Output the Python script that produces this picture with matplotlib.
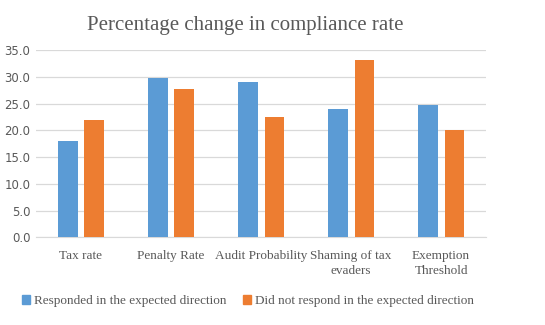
import numpy as np
import matplotlib.pyplot as plt
from matplotlib.patches import Patch

categories = ["Tax rate", "Penalty Rate", "Audit Probability", "Shaming of tax\nevaders", "Exemption\nThreshold"]
responded = [18.0, 29.8, 29.0, 24.0, 24.7]
not_responded = [22.0, 27.7, 22.5, 33.1, 20.0]
yticks = [0, 5, 10, 15, 20, 25, 30, 35]

BLUE = "#5B9BD5"
ORANGE = "#ED7D31"
TEXT = "#595959"
SERIF = ["Liberation Serif", "DejaVu Serif"]

fig = plt.figure(figsize=(5.45, 3.25), dpi=100)
ax = fig.add_axes([0.066, 0.27, 0.826, 0.576])

x = np.arange(len(categories))
w = 0.215
off = 0.146
ax.bar(x - off, responded, w, color=BLUE, zorder=3)
ax.bar(x + off, not_responded, w, color=ORANGE, zorder=3)

ax.set_xlim(-0.5, len(categories) - 0.5)
ax.set_ylim(0, 35)
ax.set_yticks(yticks)
ax.set_yticklabels([f"{v:.1f}" for v in yticks], color=TEXT, fontsize=8.5)
ax.set_xticks(x)
ax.set_xticklabels(categories, family=SERIF, fontsize=9.5, color=TEXT, linespacing=1.35)
ax.tick_params(length=0, pad=4)
ax.tick_params(axis="x", pad=9)
ax.grid(axis="y", color="#d9d9d9", linewidth=0.9, zorder=0)
for s in ["top", "right", "left"]:
    ax.spines[s].set_visible(False)
ax.spines["bottom"].set_color("#d9d9d9")

fig.suptitle("Percentage change in compliance rate", x=0.45, y=0.952,
             family=SERIF, fontsize=15, color=TEXT)

handles = [Patch(color=BLUE), Patch(color=ORANGE)]
fig.legend(handles, ["Responded in the expected direction",
                     "Did not respond in the expected direction"],
           loc="center", bbox_to_anchor=(0.455, 0.073), ncol=2, frameon=False,
           prop={"family": SERIF, "size": 9.5}, labelcolor=TEXT,
           handlelength=0.6, handleheight=0.6, handletextpad=0.3, columnspacing=1.2)

fig.savefig("out.png", dpi=100)
